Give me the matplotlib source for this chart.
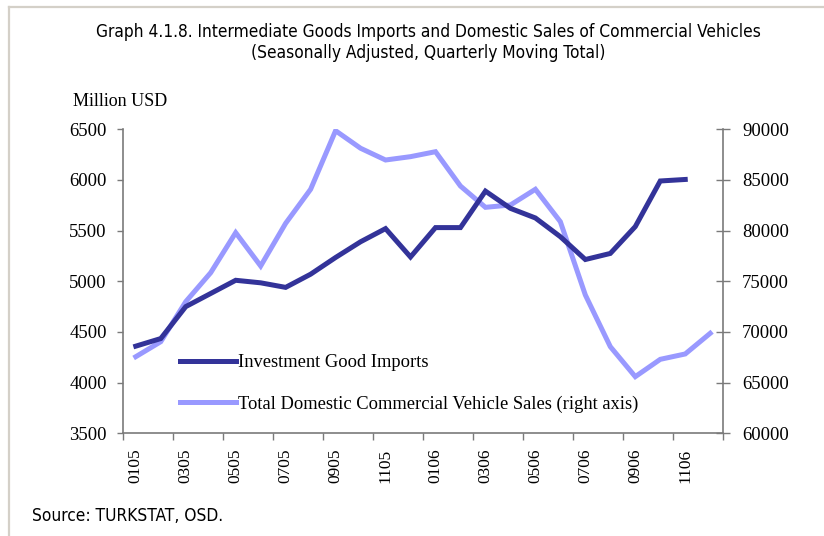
import matplotlib
matplotlib.use("Agg")
import matplotlib.pyplot as plt
from matplotlib.lines import Line2D

# ---- data ----
months = ["0105", "0205", "0305", "0405", "0505", "0605", "0705", "0805", "0905", "1005", "1105", "1205",
          "0106", "0206", "0306", "0406", "0506", "0606", "0706", "0806", "0906", "1006", "1106", "1206"]
tick_labels = ["0105", "0305", "0505", "0705", "0905", "1105", "0106", "0306", "0506", "0706", "0906", "1106"]
imports = [4360, 4435, 4750, 4880, 5010, 4985, 4940, 5070, 5235, 5390, 5520, 5240,
           5530, 5530, 5890, 5720, 5625, 5440, 5215, 5275, 5540, 5990, 6005]
sales = [67560, 69040, 72990, 75850, 79800, 76510, 80720, 84080, 89860, 88130, 86970, 87300,
         87790, 84400, 82300, 82530, 84080, 80880, 73650, 68550, 65590, 67300, 67830, 69870]

DARK = "#333399"
LIGHT = "#9999ff"
AXC = "#7a7a7a"
SERIF = ["Liberation Serif", "DejaVu Serif"]

fig = plt.figure(figsize=(8.24, 5.36), dpi=100)
fig.patch.set_facecolor("white")

# frame lines (top and left)
fig.add_artist(Line2D([8.5 / 824, 1.0], [1 - 7 / 536, 1 - 7 / 536], transform=fig.transFigure,
                      color="#d4d0c8", lw=1.6))
fig.add_artist(Line2D([8.5 / 824, 8.5 / 824], [0, 1 - 7 / 536], transform=fig.transFigure,
                      color="#d4d0c8", lw=1.6))

L, R, B, T = 123.3, 722.7, 433.3, 129.3
ax = fig.add_axes([L / 824, 1 - B / 536, (R - L) / 824, (B - T) / 536])
ax2 = ax.twinx()

x_imp = list(range(len(imports)))
x_sal = list(range(len(sales)))
l1, = ax.plot(x_imp, imports, color=DARK, lw=3.6, solid_joinstyle="miter", zorder=3)
l2, = ax2.plot(x_sal, sales, color=LIGHT, lw=3.6, solid_joinstyle="miter", zorder=2)
ax.set_zorder(ax2.get_zorder() + 1)
ax.patch.set_visible(False)

ax.set_xlim(-0.5, len(months) - 0.5)
ax.set_ylim(3500, 6500)
ax2.set_ylim(60000, 90000)

ax.set_yticks(range(3500, 6501, 500))
ax2.set_yticks(range(60000, 90001, 5000))

ax.set_xticks([i - 0.5 for i in range(0, len(months) + 1, 2)])
ax.set_xticklabels([])
ax.set_xticks(list(range(0, len(months), 2)), minor=True)
ax.set_xticklabels(tick_labels, minor=True, rotation=90, family=SERIF, fontsize=12.5, va="top")
ax.tick_params(axis="x", which="major", direction="out", length=5, width=1, color=AXC)
ax.tick_params(axis="x", which="minor", length=0, pad=11)

ax.tick_params(axis="y", direction="out", length=4, width=1, color=AXC, pad=8)
ax2.tick_params(axis="y", direction="inout", length=10, width=1, color=AXC, pad=9)
for lab in ax.get_yticklabels():
    lab.set_family(SERIF)
    lab.set_fontsize(13.5)
for lab in ax2.get_yticklabels():
    lab.set_family(SERIF)
    lab.set_fontsize(13.5)

for a in (ax, ax2):
    a.spines["top"].set_visible(False)
    for s in ("left", "right", "bottom"):
        a.spines[s].set_color(AXC)
        a.spines[s].set_linewidth(1.2)
ax2.spines["bottom"].set_visible(False)
ax2.spines["left"].set_visible(False)
ax.spines["right"].set_visible(False)

leg = ax.legend([l1, l2], ["Investment Good Imports", "Total Domestic Commercial Vehicle Sales (right axis)"],
                loc="center left", bbox_to_anchor=((180 - L) / (R - L), (B - 383.5) / (B - T)),
                frameon=False, borderpad=0, borderaxespad=0, handlelength=3.05, handletextpad=0.1,
                labelspacing=1.3, prop={"family": SERIF, "size": 13.3})

cond = dict(family="DejaVu Sans", fontstretch="condensed")
fig.text(428 / 824, 1 - 32 / 536, "Graph 4.1.8. Intermediate Goods Imports and Domestic Sales of Commercial Vehicles",
         ha="center", va="center", fontsize=12.4, **cond)
fig.text(428 / 824, 1 - 53.5 / 536, "(Seasonally Adjusted, Quarterly Moving Total)",
         ha="center", va="center", fontsize=12.4, **cond)
fig.text(73 / 824, 1 - 102 / 536, "Million USD", ha="left", va="center", family=SERIF, fontsize=13)
fig.text(32 / 824, 1 - 516 / 536, "Source: TURKSTAT, OSD.", ha="left", va="center", fontsize=12.4, **cond)

fig.savefig("out.png", dpi=100, facecolor="white")
